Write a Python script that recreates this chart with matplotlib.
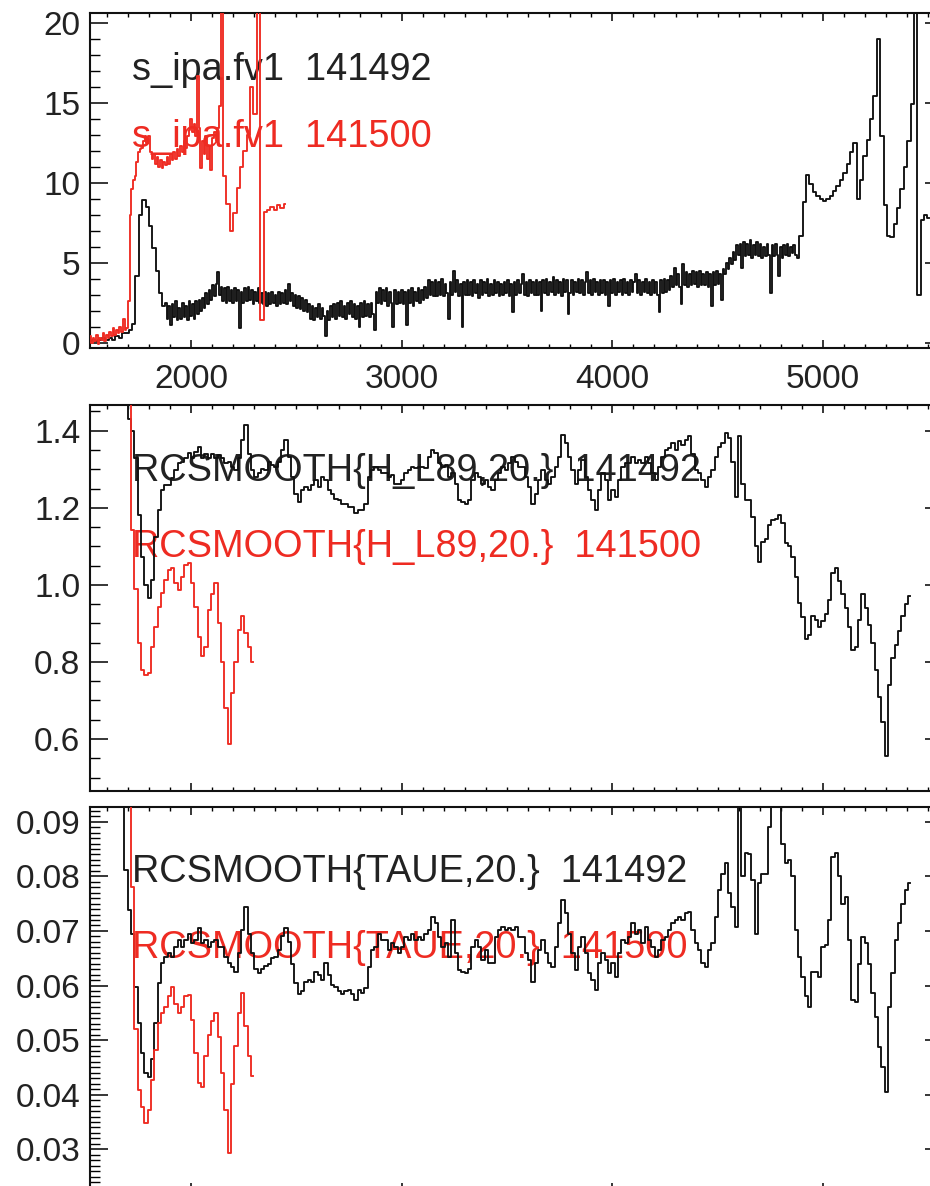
import numpy as np
import matplotlib
matplotlib.use("Agg")
import matplotlib.pyplot as plt
from matplotlib.ticker import MultipleLocator, FixedLocator, NullFormatter

plt.rcParams['font.family'] = ['Liberation Sans', 'DejaVu Sans']

BLACK = '#111111'
RED = '#ee2b22'
TXT = '#222222'

# ---------------- data ----------------
# top panel (s_ipa.fv1), black spectrum 141492 in three binned segments
top_black_a_x0, top_black_a_step = 1520.0, 16.0
top_black_a = [
    0.1, 0.2, 0.1, 0.2, 0.3, 0.2, 0.3, 0.2, 0.4, 0.3,
    0.6, 0.6, 0.8, 1.2, 4.2, 8.0, 8.9, 8.5, 7.3, 5.9,
    4.5, 3.1, 2.3,
]
top_black_b_x0, top_black_b_step = 1880.0, 8.0
top_black_b = [
    2.5, 1.5, 2.3, 1.1, 2.4, 1.6, 2.6, 1.4, 2.2, 1.5, 2.5, 1.6, 2.3, 1.4, 2.6, 1.7, 2.4, 1.5, 2.6, 1.8,
    2.7, 2.0, 2.8, 2.2, 3.1, 2.4, 3.3, 2.7, 3.6, 2.9, 3.7, 4.4, 3.0, 3.5, 2.6, 3.4, 2.5, 3.5, 2.6, 3.3,
    2.5, 3.4, 2.6, 3.3, 0.9, 3.2, 2.5, 3.4, 2.6, 3.5, 2.7, 3.3, 2.4, 3.2, 2.6, 3.4, 2.5, 3.1, 2.4, 3.2,
    2.3, 3.1, 2.4, 3.2, 2.5, 3.0, 2.3, 3.2, 2.4, 3.1, 2.5, 3.3, 2.4, 3.7, 2.6, 3.1, 2.3, 3.0, 2.2, 2.9,
    2.1, 2.8, 2.0, 2.7, 1.9, 2.4, 1.5, 2.3, 1.4, 2.2, 1.6, 2.4, 1.5, 2.2, 1.7, 0.4, 2.0, 1.4, 2.3, 1.6,
    2.4, 1.5, 2.5, 1.7, 2.6, 1.6, 2.3, 1.5, 2.5, 1.8, 2.6, 1.6, 2.4, 1.5, 2.3, 1.0, 2.5, 1.6, 2.6, 1.7,
    2.4, 1.6, 2.5, 1.8, 0.8, 3.2, 2.5, 3.4, 2.4, 3.3, 2.6, 3.4, 2.3, 3.2, 2.5, 1.0, 3.3, 2.4, 3.2, 2.5,
    3.3, 2.4, 3.2, 1.1, 3.3, 2.5, 3.4, 2.3, 3.2, 2.6, 3.4, 2.5, 3.3, 2.7, 3.5, 2.8, 3.9, 3.0, 3.8, 2.9,
    3.9, 2.9, 3.8, 3.0, 4.0, 2.9, 3.7, 3.1, 1.5, 3.8, 3.0, 4.5, 3.2, 3.9, 2.9, 3.7, 1.0, 3.8, 3.0, 3.9,
    3.0, 3.8, 2.9, 3.9, 3.1, 3.7, 2.8, 3.9, 3.0, 3.8, 3.1, 4.0, 2.9, 3.7, 3.0, 3.9, 3.1, 3.8, 2.9, 3.7,
    3.0, 3.8, 3.1, 3.9, 2.9, 3.7, 1.9, 3.8, 3.0, 3.9, 3.1, 3.7, 4.3, 3.0, 3.8, 2.9, 3.9, 3.1, 3.8, 3.0,
    3.9, 3.0, 3.8, 2.0, 3.9, 3.1, 4.0, 3.0, 3.8, 3.2, 4.1, 3.0, 3.9, 3.1, 3.8, 2.9, 4.0, 3.2, 3.9, 1.8,
    3.1, 3.9, 3.0, 3.8, 3.2, 4.0, 3.1, 3.9, 3.0, 3.8, 4.4, 3.1, 3.9, 3.0, 4.0, 3.2, 3.8, 3.0, 3.9, 3.1,
    3.9, 3.0, 3.8, 2.3, 3.9, 3.1, 4.0, 3.0, 3.8, 3.2, 3.9, 3.0, 4.0, 3.1, 3.8, 3.0, 3.9, 3.2, 3.8, 4.3,
    3.1, 3.9, 3.0, 3.8, 3.2, 4.0, 3.1, 3.8, 3.0, 3.9, 3.1, 3.8, 3.0, 1.9, 3.9, 3.1, 4.0, 3.2, 3.9, 3.3,
    4.2, 3.5, 4.7, 3.6, 4.3, 3.5, 2.4, 4.9, 3.6, 4.4, 3.5, 4.3, 3.6, 4.5, 3.7, 4.4, 3.5, 4.5, 3.6, 4.3,
    3.6, 4.4, 3.5, 4.3, 2.3, 4.4, 3.6, 4.5, 3.7, 4.3, 2.7, 4.6, 4.3, 5.0, 4.6, 5.3, 4.9, 5.7, 5.2, 6.1,
    5.5, 6.2, 4.7, 6.3, 5.4, 6.2, 5.5, 6.4, 5.3, 6.1, 5.5, 6.3, 5.4, 6.2, 5.3, 6.0, 5.4, 6.2, 5.5, 3.1,
    6.1, 5.4, 6.2, 5.5, 4.2, 6.0, 5.3, 6.1, 5.5, 6.2, 5.4, 6.0, 5.6, 6.1, 5.5, 5.3,
]
top_black_c_x0, top_black_c_step = 4896.0, 16.0
top_black_c = [
    6.7, 8.8, 10.5, 9.9, 9.4, 9.2, 9.0, 8.85, 9.0,
    9.2, 9.5, 9.8, 10.2, 10.6, 11.2, 11.9, 12.5, 9.0, 10.2,
    11.7, 12.7, 14.0, 15.4, 19.0, 12.9, 8.6, 6.7, 6.6, 7.4,
    8.4, 9.6, 11.0, 12.6, 14.9, 22.0, 3.0, 7.7, 8.0, 7.8,
]
# top panel, red spectrum 141500 in two binned segments
top_red_a_x0, top_red_a_step = 1520.0, 8.0
top_red_a = [
    0.4, 0.0, 0.3, 0.1, 0.5, -0.1, 0.3, 0.2, 0.6, 0.1, 0.5, 0.3, 0.7, 0.4, 0.9, 0.5, 0.8, 0.6, 1.0, 0.7,
    1.5, 0.8, 0.9,
    2.6, 8.0, 9.6, 10.2, 10.4, 11.3, 11.9, 12.1,
    12.2, 12.6, 12.9, 12.5, 12.9,
    11.9, 11.5, 11.8, 11.2, 11.6, 11.0, 11.4, 10.9, 11.3, 11.1,
    11.6, 11.2, 11.8, 11.4, 11.9, 11.5, 12.1, 11.7, 12.3, 11.9, 12.6, 12.2, 12.9,
    13.3, 14.0, 13.2, 13.7, 12.9, 16.7, 13.4,
    10.9, 12.6, 11.8, 12.9, 11.5, 12.3, 10.8, 12.8, 13.2, 12.6, 13.4, 14.8,
]
top_red_b_x0, top_red_b_step = 2144.0, 16.0
top_red_b = [
    22.0, 10.4, 8.7, 7.0, 8.1, 9.7, 11.0, 12.0, 13.0, 16.0,
    14.3, 22.0, 1.4, 8.2, 8.3, 8.5, 8.3, 8.6, 8.4, 8.7,
]

# smoothed panels: bins of 15.833 units
sm_step = 15.833
mid_black_x0 = 1691.1
mid_black = [
    1.48, 1.43, 1.40, 1.33, 1.18, 1.073, 1.00, 0.965, 1.012, 1.125,
    1.194, 1.246, 1.259, 1.26, 1.276, 1.298, 1.315, 1.32, 1.328, 1.341,
    1.33, 1.345, 1.358, 1.33, 1.34, 1.33, 1.34, 1.33, 1.336, 1.33,
    1.315, 1.32, 1.306, 1.298, 1.33, 1.376, 1.415, 1.34, 1.298, 1.28,
    1.29, 1.30, 1.298, 1.32, 1.31, 1.306, 1.32, 1.35, 1.376, 1.333,
    1.28, 1.237, 1.216, 1.246, 1.254, 1.246, 1.259, 1.272, 1.255, 1.28,
    1.272, 1.246, 1.237, 1.224, 1.22, 1.211, 1.211, 1.203, 1.203, 1.186,
    1.194, 1.194, 1.21, 1.28, 1.298, 1.306, 1.298, 1.29, 1.29, 1.28,
    1.284, 1.263, 1.263, 1.272, 1.289, 1.298, 1.306, 1.302, 1.306, 1.306,
    1.302, 1.333, 1.35, 1.341, 1.315, 1.306, 1.31, 1.28, 1.289, 1.263,
    1.22, 1.216, 1.211, 1.22, 1.272, 1.29, 1.28, 1.263, 1.272, 1.255,
    1.246, 1.272, 1.29, 1.306, 1.298, 1.315, 1.333, 1.32, 1.306, 1.306,
    1.28, 1.255, 1.211, 1.237, 1.272, 1.298, 1.272, 1.263, 1.28, 1.306,
    1.333, 1.389, 1.368, 1.333, 1.298, 1.263, 1.298, 1.324, 1.28, 1.246,
    1.22, 1.194, 1.246, 1.29, 1.272, 1.22, 1.246, 1.229, 1.272, 1.306,
    1.315, 1.315, 1.333, 1.315, 1.324, 1.315, 1.333, 1.315, 1.29, 1.272,
    1.306, 1.333, 1.35, 1.354, 1.368, 1.35, 1.372, 1.363, 1.376, 1.385,
    1.34, 1.298, 1.29, 1.272, 1.255, 1.28, 1.298, 1.333, 1.358, 1.368,
    1.395, 1.38, 1.32, 1.229, 1.385, 1.263, 1.22, 1.22, 1.177, 1.10,
    1.06, 1.11, 1.12, 1.155, 1.168, 1.17, 1.181, 1.16, 1.108, 1.10,
    1.073, 1.02, 0.952, 0.917, 0.86, 0.87, 0.92, 0.91, 0.89, 0.905,
    0.925, 0.96, 1.03, 1.045, 1.01, 0.975, 0.94, 0.89, 0.83, 0.84,
    0.91, 0.975, 0.94, 0.895, 0.85, 0.78, 0.71, 0.645, 0.555, 0.74,
    0.81, 0.845, 0.88, 0.92, 0.95, 0.97,
]
mid_red_x0 = 1706.9
mid_red = [
    1.55, 1.142, 0.99, 0.848, 0.778, 0.766, 0.77, 0.839, 0.891, 0.943,
    0.978, 1.012, 1.038, 1.045, 1.004, 0.987, 1.021, 1.051, 1.056, 1.004,
    0.943, 0.865, 0.815, 0.84, 0.935, 0.975, 1.004, 0.90, 0.80, 0.68,
    0.588, 0.72, 0.80, 0.882, 0.92, 0.875, 0.84, 0.80,
]
bot_black_x0 = 1675.3
bot_black = [
    0.094,
    0.0811, 0.0738, 0.0695, 0.0598, 0.0531, 0.0476, 0.0439, 0.0433, 0.0465, 0.0531,
    0.0604, 0.0641, 0.0653, 0.0659, 0.0653, 0.0671, 0.0683, 0.0671, 0.0683, 0.0695,
    0.0677, 0.0683, 0.0705, 0.0677, 0.0683, 0.0671, 0.068, 0.0683, 0.0671, 0.0671,
    0.0653, 0.0641, 0.0634, 0.0625, 0.0659, 0.0702, 0.0744, 0.0695, 0.066, 0.063,
    0.0622, 0.063, 0.0635, 0.064, 0.065, 0.0653, 0.0665, 0.069, 0.0705, 0.068,
    0.064, 0.0605, 0.0585, 0.059, 0.0607, 0.061, 0.0607, 0.0625, 0.062, 0.061,
    0.0641, 0.062, 0.0601, 0.0598, 0.059, 0.0585, 0.059, 0.0592, 0.0585, 0.0573,
    0.0592, 0.0586, 0.0595, 0.0634, 0.0665, 0.0671, 0.0695, 0.0683, 0.0683, 0.0665,
    0.0677, 0.0671, 0.0659, 0.0671, 0.0689, 0.0683, 0.0695, 0.0683, 0.0689, 0.0683,
    0.0695, 0.0702, 0.0726, 0.0714, 0.0689, 0.0671, 0.0677, 0.0653, 0.072, 0.0659,
    0.0628, 0.0625, 0.0622, 0.063, 0.0671, 0.0683, 0.0671, 0.0647, 0.0665, 0.0641,
    0.0641, 0.0689, 0.0702, 0.0708, 0.0702, 0.0705, 0.0702, 0.0708, 0.0689, 0.0689,
    0.0659, 0.0647, 0.0607, 0.0641, 0.0665, 0.0683, 0.0659, 0.0641, 0.0634, 0.0671,
    0.0714, 0.0757, 0.0732, 0.0695, 0.0659, 0.0628, 0.0671, 0.0689, 0.0659, 0.0622,
    0.061, 0.0592, 0.0641, 0.0659, 0.0647, 0.0622, 0.0641, 0.0616, 0.0659, 0.0683,
    0.0677, 0.0689, 0.0714, 0.0695, 0.0702, 0.0677, 0.0708, 0.0683, 0.0671, 0.0653,
    0.0665, 0.0683, 0.0689, 0.0702, 0.0714, 0.072, 0.0726, 0.072, 0.0732, 0.0735,
    0.0702, 0.0677, 0.0665, 0.0641, 0.0634, 0.0665, 0.0677, 0.0726, 0.0775, 0.0805,
    0.0824, 0.077, 0.0744, 0.0708, 0.094, 0.080, 0.0842, 0.084, 0.0793, 0.0695,
    0.0787, 0.0805, 0.0805, 0.0891, 0.093, 0.095, 0.093, 0.086, 0.0824, 0.083,
    0.080, 0.0702, 0.0653, 0.0616, 0.058, 0.056, 0.0625, 0.0625, 0.0615, 0.067,
    0.0675, 0.072, 0.0836, 0.0842, 0.080, 0.075, 0.0762, 0.0683, 0.0573, 0.057,
    0.064, 0.0689, 0.0677, 0.064, 0.0586, 0.0543, 0.0488, 0.0451, 0.0405, 0.0561,
    0.0622, 0.0683, 0.0714, 0.075, 0.0775, 0.0787,
]
bot_red_x0 = 1706.9
bot_red = [
    0.095, 0.078, 0.052, 0.0409, 0.0378, 0.0348, 0.0372, 0.0427, 0.0482, 0.0531,
    0.0549, 0.0561, 0.058, 0.0598, 0.0567, 0.0549, 0.0561, 0.058, 0.0583, 0.0537,
    0.0476, 0.0421, 0.0415, 0.047, 0.051, 0.0535, 0.0549, 0.0506, 0.0439, 0.0372,
    0.0293, 0.042, 0.049, 0.055, 0.0586, 0.0525, 0.047, 0.0435,
]

labels_top = ["s_ipa.fv1  141492", "s_ipa.fv1  141500"]
labels_mid = ["RCSMOOTH{H_L89,20.}  141492", "RCSMOOTH{H_L89,20.}  141500"]
labels_bot = ["RCSMOOTH{TAUE,20.}  141492", "RCSMOOTH{TAUE,20.}  141500"]

xticks = [2000, 3000, 4000, 5000]
xtick_labels = ["2000", "3000", "4000", "5000"]
yticks_top = [0, 5, 10, 15, 20]
yticks_mid = [0.6, 0.8, 1.0, 1.2, 1.4]
yticks_bot = [0.03, 0.04, 0.05, 0.06, 0.07, 0.08, 0.09]

XLIM = (1520, 5570)

# ---------------- figure ----------------
W, H = 930, 1186
fig = plt.figure(figsize=(W / 100, H / 100), dpi=100)


def make_ax(top_px, bot_px):
    left, right = 90, 943
    return fig.add_axes([left / W, (H - bot_px) / H, (right - left) / W, (bot_px - top_px) / H])


def style(ax, ymaj, ymin, ylim, fmt, show_x):
    ax.set_xlim(*XLIM)
    ax.set_ylim(*ylim)
    ax.xaxis.set_major_locator(FixedLocator(xticks))
    ax.xaxis.set_minor_locator(MultipleLocator(100))
    ax.yaxis.set_major_locator(FixedLocator(ymaj))
    ax.yaxis.set_minor_locator(MultipleLocator(ymin))
    ax.set_yticklabels([fmt.format(v) for v in ymaj])
    if show_x:
        ax.set_xticklabels(xtick_labels)
    else:
        ax.xaxis.set_major_formatter(NullFormatter())
    for s in ax.spines.values():
        s.set_linewidth(1.5)
        s.set_color('#111111')
    ax.tick_params(axis='x', which='major', direction='in', top=True, bottom=True,
                   length=5.8, width=1.1, pad=11, labelsize=24, labelcolor=TXT)
    ax.tick_params(axis='x', which='minor', direction='in', top=True, bottom=True,
                   length=3.0, width=1.0)
    ax.tick_params(axis='y', which='major', direction='in', left=True, right=True,
                   length=13, width=1.1, pad=7, labelsize=24, labelcolor=TXT)
    ax.tick_params(axis='y', which='minor', direction='in', left=True, right=True,
                   length=7.2, width=1.0)


def grid(x0, step, n):
    return x0 + step * np.arange(n)


def segments(*segs):
    xs = np.concatenate([grid(x0, st, len(v)) for x0, st, v in segs])
    ys = np.concatenate([np.asarray(v, dtype=float) for _, _, v in segs])
    return xs, ys


LW = 1.35

# top
ax1 = make_ax(13.3, 348.3)
bx, by = segments((top_black_a_x0, top_black_a_step, top_black_a),
                  (top_black_b_x0, top_black_b_step, top_black_b),
                  (top_black_c_x0, top_black_c_step, top_black_c))
rx, ry = segments((top_red_a_x0, top_red_a_step, top_red_a),
                  (top_red_b_x0, top_red_b_step, top_red_b))
ax1.plot(bx, by, color=BLACK, lw=LW, drawstyle='steps-mid', zorder=3)
ax1.plot(rx, ry, color=RED, lw=LW, drawstyle='steps-mid', zorder=4)
style(ax1, yticks_top, 1, (-0.35, 20.59), "{:d}", True)
ax1.text(0.049, 0.801, labels_top[0], transform=ax1.transAxes, fontsize=27.3,
         color=TXT, va='baseline', ha='left', zorder=2)
ax1.text(0.049, 0.602, labels_top[1], transform=ax1.transAxes, fontsize=27.3,
         color=RED, va='baseline', ha='left', zorder=2)

# middle
ax2 = make_ax(405, 790.5)
ax2.plot(grid(mid_black_x0, sm_step, len(mid_black)), mid_black, color=BLACK, lw=LW,
         drawstyle='steps-mid', zorder=3)
ax2.plot(grid(mid_red_x0, sm_step, len(mid_red)), mid_red, color=RED, lw=LW,
         drawstyle='steps-mid', zorder=4)
style(ax2, yticks_mid, 0.05, (0.4664, 1.4667), "{:.1f}", False)
ax2.text(0.049, 0.8036, labels_mid[0], transform=ax2.transAxes, fontsize=27.3,
         color=TXT, va='baseline', ha='left', zorder=2)
ax2.text(0.049, 0.6065, labels_mid[1], transform=ax2.transAxes, fontsize=27.3,
         color=RED, va='baseline', ha='left', zorder=2)

# bottom
ax3 = make_ax(806.7, 1191)
ax3.plot(grid(bot_black_x0, sm_step, len(bot_black)), bot_black, color=BLACK, lw=LW,
         drawstyle='steps-mid', zorder=3)
ax3.plot(grid(bot_red_x0, sm_step, len(bot_red)), bot_red, color=RED, lw=LW,
         drawstyle='steps-mid', zorder=4)
style(ax3, yticks_bot, 0.001, (0.02236, 0.09275), "{:.2f}", False)
ax3.text(0.049, 0.805, labels_bot[0], transform=ax3.transAxes, fontsize=27.3,
         color=TXT, va='baseline', ha='left', zorder=2)
ax3.text(0.049, 0.6055, labels_bot[1], transform=ax3.transAxes, fontsize=27.3,
         color=RED, va='baseline', ha='left', zorder=2)

fig.savefig("out.png", dpi=100)
